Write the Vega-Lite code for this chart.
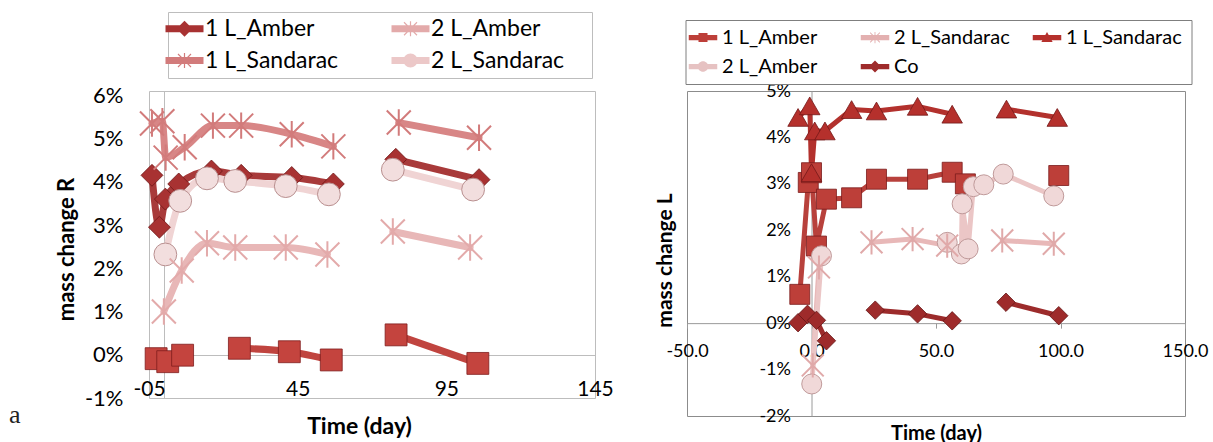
{
  "$schema": "https://vega.github.io/schema/vega-lite/v6.json",
  "padding": {"left": 8, "top": 11, "right": 0, "bottom": 0},
  "autosize": {"type": "pad"},
  "background": "white",
  "spacing": 92,
  "bounds": "flush",
  "config": {
    "font": "Lato",
    "axis": {"labelFont": "Lato", "titleFont": "Lato", "labelColor": "#000", "titleColor": "#000"},
    "legend": {"labelFont": "Lato", "labelColor": "#000"}
  },
  "datasets": {
    "left": [
      {"s": "1 L_Amber", "d": -4, "v": 4.15, "g": 1},
      {"s": "1 L_Amber", "d": -1.5, "v": 2.95, "g": 1},
      {"s": "1 L_Amber", "d": 0.5, "v": 3.6, "g": 1},
      {"s": "1 L_Amber", "d": 5, "v": 3.95, "g": 1},
      {"s": "1 L_Amber", "d": 16, "v": 4.25, "g": 1},
      {"s": "1 L_Amber", "d": 26, "v": 4.15, "g": 1},
      {"s": "1 L_Amber", "d": 43, "v": 4.1, "g": 1},
      {"s": "1 L_Amber", "d": 57, "v": 3.95, "g": 1},
      {"s": "1 L_Amber", "d": 78, "v": 4.52, "g": 2},
      {"s": "1 L_Amber", "d": 106, "v": 4.05, "g": 2},
      {"s": "2 L_Amber", "d": 0, "v": 1.0, "g": 1},
      {"s": "2 L_Amber", "d": 6, "v": 1.95, "g": 1},
      {"s": "2 L_Amber", "d": 14.5, "v": 2.58, "g": 1},
      {"s": "2 L_Amber", "d": 24, "v": 2.48, "g": 1},
      {"s": "2 L_Amber", "d": 41, "v": 2.48, "g": 1},
      {"s": "2 L_Amber", "d": 55, "v": 2.32, "g": 1},
      {"s": "2 L_Amber", "d": 77, "v": 2.85, "g": 2},
      {"s": "2 L_Amber", "d": 103, "v": 2.48, "g": 2},
      {"s": "1 L_Sandarac", "d": -4, "v": 5.35, "g": 1},
      {"s": "1 L_Sandarac", "d": -0.5, "v": 5.4, "g": 1},
      {"s": "1 L_Sandarac", "d": 0.6, "v": 4.56, "g": 1},
      {"s": "1 L_Sandarac", "d": 7, "v": 4.8, "g": 1},
      {"s": "1 L_Sandarac", "d": 16.5, "v": 5.3, "g": 1},
      {"s": "1 L_Sandarac", "d": 26, "v": 5.3, "g": 1},
      {"s": "1 L_Sandarac", "d": 43, "v": 5.1, "g": 1},
      {"s": "1 L_Sandarac", "d": 57, "v": 4.82, "g": 1},
      {"s": "1 L_Sandarac", "d": 79, "v": 5.37, "g": 2},
      {"s": "1 L_Sandarac", "d": 106, "v": 5.02, "g": 2},
      {"s": "2 L_Sandarac", "d": 0.5, "v": 2.32, "g": 1},
      {"s": "2 L_Sandarac", "d": 5.5, "v": 3.56, "g": 1},
      {"s": "2 L_Sandarac", "d": 14.5, "v": 4.08, "g": 1},
      {"s": "2 L_Sandarac", "d": 24, "v": 4.02, "g": 1},
      {"s": "2 L_Sandarac", "d": 41, "v": 3.9, "g": 1},
      {"s": "2 L_Sandarac", "d": 55.5, "v": 3.71, "g": 1},
      {"s": "2 L_Sandarac", "d": 77, "v": 4.28, "g": 2},
      {"s": "2 L_Sandarac", "d": 104, "v": 3.82, "g": 2},
      {"s": "Co", "d": -2.6, "v": -0.09, "g": 1},
      {"s": "Co", "d": 1.3, "v": -0.16, "g": 1},
      {"s": "Co", "d": 6.3, "v": -0.01, "g": 1},
      {"s": "Co", "d": 25.4, "v": 0.15, "g": 2},
      {"s": "Co", "d": 42.2, "v": 0.07, "g": 2},
      {"s": "Co", "d": 56.3, "v": -0.12, "g": 2},
      {"s": "Co", "d": 78.1, "v": 0.46, "g": 3},
      {"s": "Co", "d": 105.6, "v": -0.2, "g": 3}
    ],
    "right": [
      {"s": "1 L_Amber", "d": -4.7, "v": 0.62, "g": 1},
      {"s": "1 L_Amber", "d": -1.3, "v": 3.03, "g": 1},
      {"s": "1 L_Amber", "d": 0, "v": 3.24, "g": 1},
      {"s": "1 L_Amber", "d": 2, "v": 1.66, "g": 1},
      {"s": "1 L_Amber", "d": 6, "v": 2.67, "g": 1},
      {"s": "1 L_Amber", "d": 16.1, "v": 2.7, "g": 1},
      {"s": "1 L_Amber", "d": 26.1, "v": 3.1, "g": 1},
      {"s": "1 L_Amber", "d": 42.6, "v": 3.1, "g": 1},
      {"s": "1 L_Amber", "d": 56.5, "v": 3.25, "g": 1},
      {"s": "1 L_Amber", "d": 61.8, "v": 3.0, "g": 1},
      {"s": "1 L_Amber", "d": 99.3, "v": 3.18, "g": 2},
      {"s": "2 L_Sandarac", "d": 0.5, "v": -0.91, "g": 1},
      {"s": "2 L_Sandarac", "d": 3, "v": 1.2, "g": 1},
      {"s": "2 L_Sandarac", "d": 24.1, "v": 1.74, "g": 2},
      {"s": "2 L_Sandarac", "d": 40.6, "v": 1.81, "g": 2},
      {"s": "2 L_Sandarac", "d": 54.5, "v": 1.67, "g": 2},
      {"s": "2 L_Sandarac", "d": 76.6, "v": 1.78, "g": 3},
      {"s": "2 L_Sandarac", "d": 97.3, "v": 1.71, "g": 3},
      {"s": "1 L_Sandarac", "d": -5.4, "v": 4.43, "g": 1},
      {"s": "1 L_Sandarac", "d": -0.7, "v": 4.68, "g": 1},
      {"s": "1 L_Sandarac", "d": 0, "v": 3.24, "g": 1},
      {"s": "1 L_Sandarac", "d": 1.3, "v": 4.14, "g": 1},
      {"s": "1 L_Sandarac", "d": 5.4, "v": 4.14, "g": 1},
      {"s": "1 L_Sandarac", "d": 16.1, "v": 4.6, "g": 1},
      {"s": "1 L_Sandarac", "d": 26.1, "v": 4.57, "g": 1},
      {"s": "1 L_Sandarac", "d": 42.6, "v": 4.67, "g": 1},
      {"s": "1 L_Sandarac", "d": 56.5, "v": 4.5, "g": 1},
      {"s": "1 L_Sandarac", "d": 78.3, "v": 4.61, "g": 2},
      {"s": "1 L_Sandarac", "d": 98.7, "v": 4.43, "g": 2},
      {"s": "2 L_Amber", "d": 0.1, "v": -1.31, "g": 1},
      {"s": "2 L_Amber", "d": 4, "v": 1.45, "g": 1},
      {"s": "2 L_Amber", "d": 54.5, "v": 1.74, "g": 2},
      {"s": "2 L_Amber", "d": 60.2, "v": 1.49, "g": 2},
      {"s": "2 L_Amber", "d": 60.5, "v": 2.57, "g": 2},
      {"s": "2 L_Amber", "d": 62.9, "v": 1.6, "g": 2},
      {"s": "2 L_Amber", "d": 65, "v": 2.94, "g": 2},
      {"s": "2 L_Amber", "d": 69.2, "v": 2.98, "g": 2},
      {"s": "2 L_Amber", "d": 77, "v": 3.21, "g": 2},
      {"s": "2 L_Amber", "d": 97.3, "v": 2.74, "g": 2},
      {"s": "Co", "d": -5.4, "v": 0.01, "g": 1},
      {"s": "Co", "d": -1.6, "v": 0.19, "g": 1},
      {"s": "Co", "d": 2, "v": 0.06, "g": 1},
      {"s": "Co", "d": 6, "v": -0.38, "g": 1},
      {"s": "Co", "d": 25.6, "v": 0.28, "g": 2},
      {"s": "Co", "d": 42.6, "v": 0.2, "g": 2},
      {"s": "Co", "d": 56.5, "v": 0.05, "g": 2},
      {"s": "Co", "d": 78.1, "v": 0.45, "g": 3},
      {"s": "Co", "d": 99.3, "v": 0.16, "g": 3}
    ]
  },
  "resolve": {
    "scale": {"x": "independent", "y": "independent", "color": "independent", "shape": "independent", "stroke": "independent"},
    "legend": {"color": "independent", "shape": "independent", "stroke": "independent"}
  },
  "hconcat": [
    {
      "width": 446,
      "height": 307,
      "data": {"name": "left"},
      "view": {"stroke": "#bdbdbd"},
      "title": {"text": "a", "orient": "bottom", "anchor": "start", "frame": "group", "dx": -140, "dy": -40, "font": "Liberation Serif", "fontSize": 26, "fontWeight": "normal", "color": "#222"},
      "encoding": {
        "x": {"field": "d", "type": "quantitative", "scale": {"domain": [-5, 145], "nice": false, "zero": false},
          "axis": {"orient": "bottom", "offset": -20, "values": [-5, 0, 45, 95, 145],
            "labelExpr": "datum.value === 0 ? '' : (datum.value < 0 ? '-05' : datum.label)",
            "domain": false, "ticks": false, "grid": true,
            "gridColor": {"condition": {"test": "datum.value === 0", "value": "#bdbdbd"}, "value": "transparent"},
            "labelFontSize": 21, "labelPadding": 0, "labelFlush": false, "labelOverlap": false,
            "title": "Time (day)", "titleFontSize": 23, "titleFontWeight": "bold", "titleX": 210, "titleY": 48, "titleBaseline": "middle"}},
        "y": {"field": "v", "type": "quantitative", "scale": {"domain": [-1, 6.1], "nice": false, "zero": false},
          "axis": {"orient": "left", "values": [-1, 0, 1, 2, 3, 4, 5, 6], "labelExpr": "datum.value + '%'",
            "domain": false, "ticks": false, "grid": true,
            "gridColor": {"condition": {"test": "datum.value === 0", "value": "#bdbdbd"}, "value": "transparent"},
            "labelFontSize": 22, "labelPadding": 26,
            "title": "mass change R", "titleFontSize": 22, "titleFontWeight": "bold", "titleX": -83, "titleY": 158,
            "titleBaseline": "middle", "titleAlign": "center", "titleAngle": -90}}
      },
      "layer": [
        {
          "mark": {"type": "line", "strokeWidth": 7, "interpolate": "monotone", "strokeCap": "round", "strokeJoin": "round"},
          "encoding": {
            "stroke": {"field": "s", "type": "nominal", "legend": null,
              "scale": {"domain": ["Co", "2 L_Amber", "2 L_Sandarac", "1 L_Sandarac", "1 L_Amber"], "range": ["#c0443f", "#e8b7b7", "#f0d4d4", "#d88686", "#a83a3a"]}},
            "detail": {"field": "g", "type": "nominal"}
          }
        },
        {"transform": [{"filter": "datum.s === 'Co'"}], "mark": {"type": "point", "shape": "square", "filled": true, "size": 480, "opacity": 1, "fill": "#c4443e", "stroke": "#7f1d1d", "strokeWidth": 0.8}},
        {"transform": [{"filter": "datum.s === '1 L_Amber'"}], "mark": {"type": "point", "shape": "diamond", "filled": true, "size": 480, "opacity": 1, "fill": "#a83232", "stroke": "#6e1717", "strokeWidth": 0.8}},
        {"transform": [{"filter": "datum.s === '2 L_Sandarac'"}], "mark": {"type": "point", "shape": "circle", "filled": true, "size": 520, "opacity": 1, "fill": "#f2dede", "stroke": "#b99090", "strokeWidth": 1}},
        {"transform": [{"filter": "datum.s === '2 L_Amber'"}], "mark": {"type": "point", "shape": "M-1,-1L1,1M-1,1L1,-1M0,-1.1L0,1.1", "filled": false, "size": 576, "opacity": 1, "stroke": "#e3aaaa", "strokeWidth": 2}},
        {"transform": [{"filter": "datum.s === '1 L_Sandarac'"}], "mark": {"type": "point", "shape": "M-1,-1L1,1M-1,1L1,-1M0,-1.1L0,1.1", "filled": false, "size": 576, "opacity": 1, "stroke": "#d27b7b", "strokeWidth": 2}},
        {
          "transform": [{"filter": "datum.d > 9999"}],
          "mark": {"type": "point", "filled": true, "opacity": 1, "size": 400, "strokeWidth": 0},
          "encoding": {
            "color": {"field": "s", "type": "nominal",
              "scale": {"domain": ["1 L_Amber", "2 L_Amber", "1 L_Sandarac", "2 L_Sandarac"], "range": ["#a83232", "#e3aaaa", "#d27b7b", "#ecc8c8"]},
              "legend": {"orient": "none", "legendX": 19, "legendY": -79, "columns": 2, "direction": "horizontal", "title": null, "strokeColor": "#bdbdbd", "fillColor": "white",
                "padding": 5, "labelFontSize": 23, "symbolSize": 400, "symbolStrokeWidth": 0, "symbolOpacity": 1, "labelOffset": 9,
                "columnPadding": 10, "rowPadding": 8, "gridAlign": "all", "labelLimit": 300}},
            "shape": {"field": "s", "type": "nominal",
              "scale": {"domain": ["1 L_Amber", "2 L_Amber", "1 L_Sandarac", "2 L_Sandarac"],
                "range": [
                  "M-3.9,0L-3.9,0M17.6,0L17.6,0M-1.9,-0.35H1.9V0.35H-1.9Z M0,-0.8L0.8,0L0,0.8L-0.8,0Z",
                  "M-3.9,0L-3.9,0M17.6,0L17.6,0M-1.9,-0.35H1.9V0.35H-1.9Z M-0.06,-0.75H0.06V0.75H-0.06Z M-0.61,-0.69L0.69,0.61L0.61,0.69L-0.69,-0.61Z M0.61,-0.69L0.69,-0.61L-0.61,0.69L-0.69,0.61Z",
                  "M-3.9,0L-3.9,0M17.6,0L17.6,0M-1.9,-0.35H1.9V0.35H-1.9Z M-0.06,-0.75H0.06V0.75H-0.06Z M-0.61,-0.69L0.69,0.61L0.61,0.69L-0.69,-0.61Z M0.61,-0.69L0.69,-0.61L-0.61,0.69L-0.69,0.61Z",
                  "M-3.9,0L-3.9,0M17.6,0L17.6,0M-1.9,-0.35H1.9V0.35H-1.9Z M-0.7,0A0.7,0.7 0 1,1 0.7,0A0.7,0.7 0 1,1 -0.7,0Z"
                ]},
              "legend": {"orient": "none", "legendX": 19, "legendY": -79, "columns": 2, "direction": "horizontal", "title": null, "strokeColor": "#bdbdbd", "fillColor": "white",
                "padding": 5, "labelFontSize": 23, "symbolSize": 400, "symbolStrokeWidth": 0, "symbolOpacity": 1, "labelOffset": 9,
                "columnPadding": 10, "rowPadding": 8, "gridAlign": "all", "labelLimit": 300}}
          }
        }
      ]
    },
    {
      "width": 498,
      "height": 325,
      "data": {"name": "right"},
      "view": {"stroke": "#8c8c8c"},
      "encoding": {
        "x": {"field": "d", "type": "quantitative", "scale": {"domain": [-50, 150], "nice": false, "zero": false},
          "axis": {"orient": "bottom", "offset": -92.86, "values": [-50, 0, 50, 100, 150],
            "labelExpr": "(datum.value < 0 ? '-' : '') + format(abs(datum.value), '.1f')",
            "domain": true, "domainColor": "#9a9a9a", "ticks": true, "tickColor": "#9a9a9a", "tickSize": 5, "grid": false,
            "labelFontSize": 18, "labelPadding": 14, "labelFlush": false, "labelOverlap": false,
            "title": "Time (day)", "titleFontSize": 20, "titleFontWeight": "bold", "titleY": 110, "titleBaseline": "middle"}},
        "y": {"field": "v", "type": "quantitative", "scale": {"domain": [-2, 5], "nice": false, "zero": false},
          "axis": {"orient": "left", "offset": -124.5, "values": [-2, -1, 0, 1, 2, 3, 4, 5], "labelExpr": "datum.value + '%'",
            "domain": true, "domainColor": "#9a9a9a", "ticks": false, "grid": false,
            "labelFontSize": 18, "labelPadding": 21,
            "title": "mass change L", "titleFontSize": 21, "titleFontWeight": "bold", "titleX": -146, "titleY": 169,
            "titleBaseline": "middle", "titleAlign": "center", "titleAngle": -90}}
      },
      "layer": [
        {
          "mark": {"type": "line", "strokeWidth": 5, "strokeCap": "round", "strokeJoin": "round"},
          "encoding": {
            "stroke": {"field": "s", "type": "nominal", "legend": null,
              "scale": {"domain": ["2 L_Amber", "2 L_Sandarac", "Co", "1 L_Amber", "1 L_Sandarac"], "range": ["#ebc6c6", "#e8b8b8", "#9c2b2b", "#b8413c", "#b3312d"]}},
            "detail": {"field": "g", "type": "nominal"}
          }
        },
        {"transform": [{"filter": "datum.s === '1 L_Amber'"}], "mark": {"type": "point", "shape": "square", "filled": true, "size": 400, "opacity": 1, "fill": "#bd3f39", "stroke": "#7a1c1c", "strokeWidth": 0.8}},
        {"transform": [{"filter": "datum.s === '1 L_Sandarac'"}], "mark": {"type": "point", "shape": "triangle-up", "filled": true, "size": 420, "opacity": 1, "fill": "#b5302c", "stroke": "#741818", "strokeWidth": 0.8}},
        {"transform": [{"filter": "datum.s === 'Co'"}], "mark": {"type": "point", "shape": "diamond", "filled": true, "size": 340, "opacity": 1, "fill": "#9e2b2b", "stroke": "#641515", "strokeWidth": 0.8}},
        {"transform": [{"filter": "datum.s === '2 L_Amber'"}], "mark": {"type": "point", "shape": "circle", "filled": true, "size": 400, "opacity": 1, "fill": "#f0d8d8", "stroke": "#c09a9a", "strokeWidth": 1}},
        {"transform": [{"filter": "datum.s === '2 L_Sandarac'"}], "mark": {"type": "point", "shape": "M-1,-1L1,1M-1,1L1,-1M0,-1.1L0,1.1", "filled": false, "size": 480, "opacity": 1, "stroke": "#e0a9a9", "strokeWidth": 2}},
        {
          "transform": [{"filter": "datum.d > 9999"}],
          "mark": {"type": "point", "filled": true, "opacity": 1, "size": 225, "strokeWidth": 0},
          "encoding": {
            "color": {"field": "s", "type": "nominal",
              "scale": {"domain": ["1 L_Amber", "2 L_Sandarac", "1 L_Sandarac", "2 L_Amber", "Co"], "range": ["#bd3f39", "#e3b0b0", "#b5302c", "#e6c2c2", "#9e2b2b"]},
              "legend": {"orient": "none", "legendX": -1.5, "legendY": -71, "columns": 3, "direction": "horizontal", "title": null, "strokeColor": "#7f7f7f", "fillColor": "white",
                "padding": 7.5, "labelFontSize": 20, "symbolSize": 225, "symbolStrokeWidth": 0, "symbolOpacity": 1, "labelOffset": 9,
                "columnPadding": 17, "rowPadding": 9, "gridAlign": "all", "labelLimit": 300}},
            "shape": {"field": "s", "type": "nominal",
              "scale": {"domain": ["1 L_Amber", "2 L_Sandarac", "1 L_Sandarac", "2 L_Amber", "Co"],
                "range": [
                  "M-2.37,0L-2.37,0M18.17,0L18.17,0M-1.9,-0.35H1.9V0.35H-1.9Z M-0.6,-0.6H0.6V0.6H-0.6Z",
                  "M-2.37,0L-2.37,0M18.17,0L18.17,0M-1.9,-0.35H1.9V0.35H-1.9Z M-0.06,-0.75H0.06V0.75H-0.06Z M-0.61,-0.69L0.69,0.61L0.61,0.69L-0.69,-0.61Z M0.61,-0.69L0.69,-0.61L-0.61,0.69L-0.69,0.61Z",
                  "M-2.37,0L-2.37,0M18.17,0L18.17,0M-1.9,-0.35H1.9V0.35H-1.9Z M0,-0.75L0.75,0.6H-0.75Z",
                  "M-2.37,0L-2.37,0M18.17,0L18.17,0M-1.9,-0.35H1.9V0.35H-1.9Z M-0.7,0A0.7,0.7 0 1,1 0.7,0A0.7,0.7 0 1,1 -0.7,0Z",
                  "M-2.37,0L-2.37,0M18.17,0L18.17,0M-1.9,-0.35H1.9V0.35H-1.9Z M0,-0.8L0.8,0L0,0.8L-0.8,0Z"
                ]},
              "legend": {"orient": "none", "legendX": -1.5, "legendY": -71, "columns": 3, "direction": "horizontal", "title": null, "strokeColor": "#7f7f7f", "fillColor": "white",
                "padding": 7.5, "labelFontSize": 20, "symbolSize": 225, "symbolStrokeWidth": 0, "symbolOpacity": 1, "labelOffset": 9,
                "columnPadding": 17, "rowPadding": 9, "gridAlign": "all", "labelLimit": 300}}
          }
        }
      ]
    }
  ]
}
